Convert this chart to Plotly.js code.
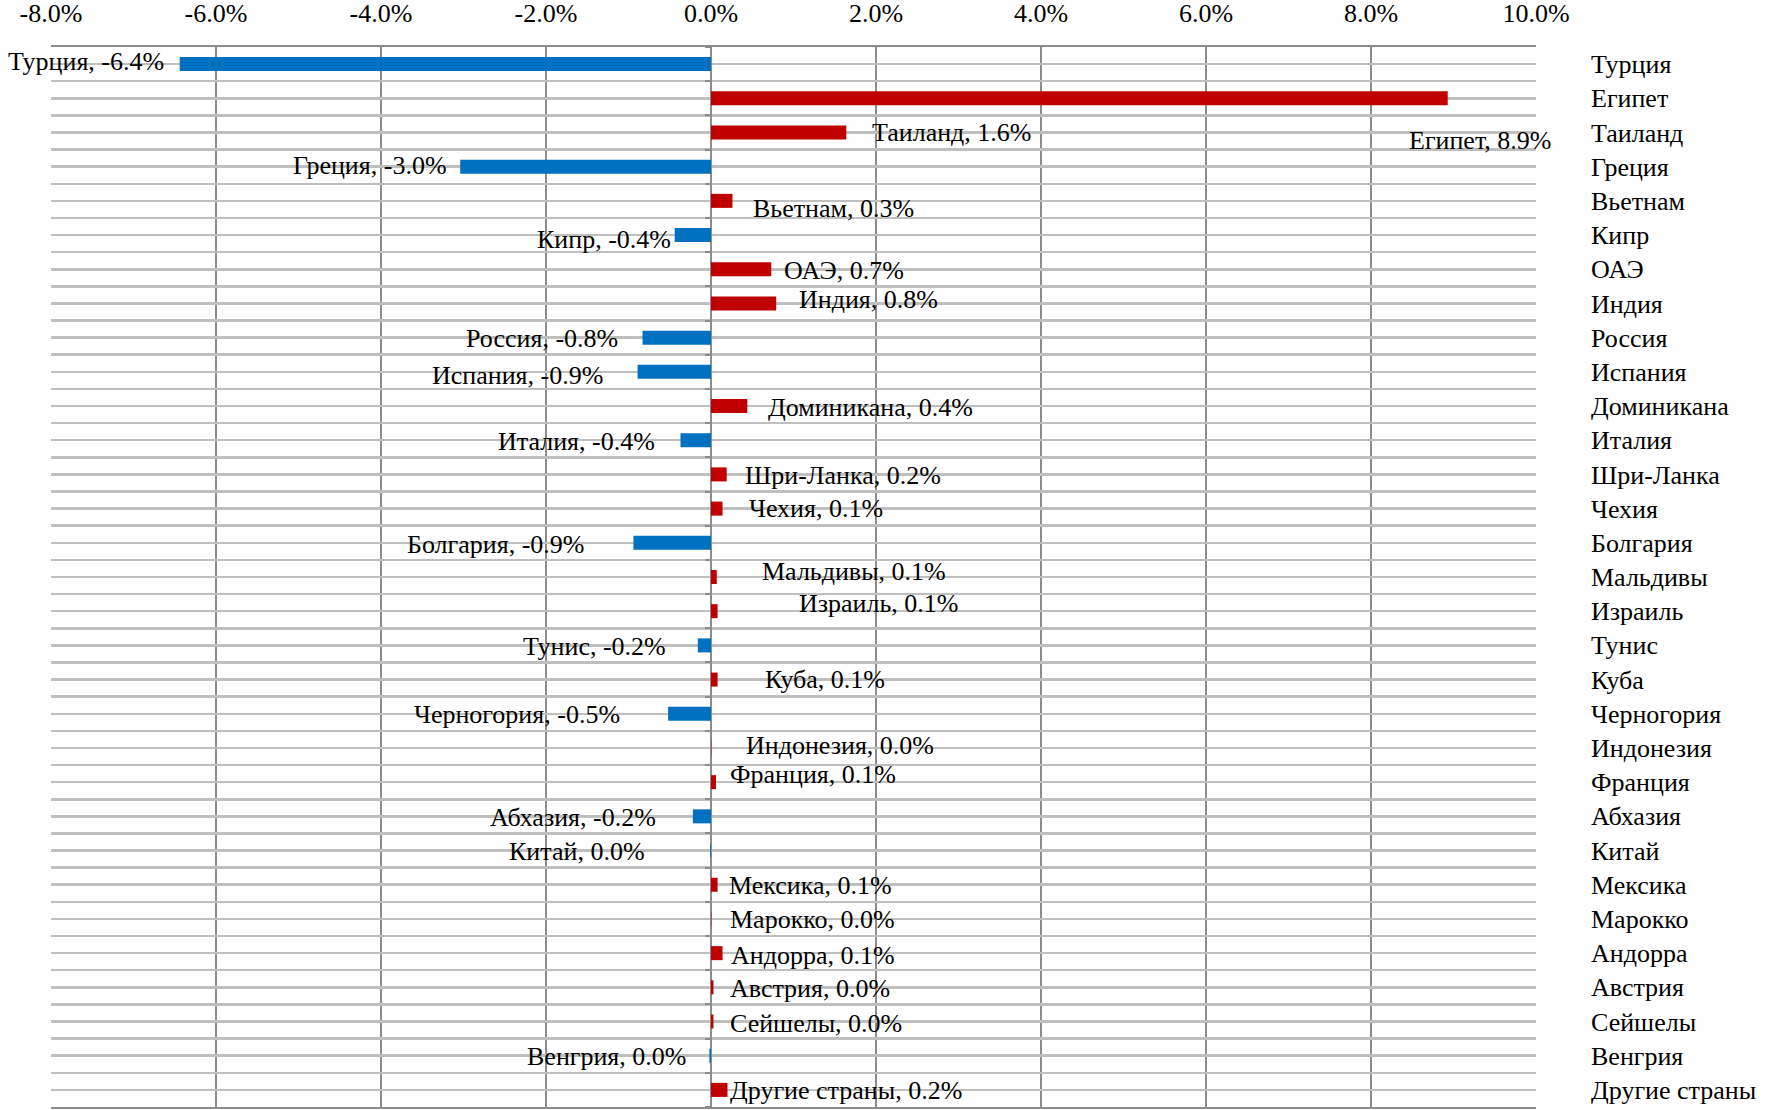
<!DOCTYPE html>
<html>
<head>
<meta charset="utf-8">
<script src="https://cdn.plot.ly/plotly-3.0.1.min.js"></script>
<style>html,body{margin:0;padding:0;background:#fff;}#chart{width:1767px;height:1110px;}</style>
</head>
<body>
<div id="chart"></div>
<script>
const categories = ["Турция","Египет","Таиланд","Греция","Вьетнам","Кипр","ОАЭ","Индия","Россия","Испания","Доминикана","Италия","Шри-Ланка","Чехия","Болгария","Мальдивы","Израиль","Тунис","Куба","Черногория","Индонезия","Франция","Абхазия","Китай","Мексика","Марокко","Андорра","Австрия","Сейшелы","Венгрия","Другие страны"];
const values = [-6.44, 8.93, 1.64, -3.04, 0.26, -0.44, 0.73, 0.79, -0.83, -0.89, 0.44, -0.37, 0.19, 0.14, -0.94, 0.07, 0.08, -0.16, 0.08, -0.52, 0.004, 0.06, -0.22, -0.01, 0.08, 0.004, 0.14, 0.03, 0.03, -0.02, 0.2];
const tickVals = [-8, -6, -4, -2, 0, 2, 4, 6, 8, 10];

// label nudges (px): horizontal gap from bar end, vertical drop
const labelGap = [14, -41, 24, 11, 19, 2, 11, 21, 23, 33, 19, 23, 16, 24, 47, 43, 79, 30, 45, 46, 33, 12, 35, 63, 9, 17, 6, 15, 15, 20, 0];
const labelDrop = [-3, 42, 0, -1, 8, 4, 1, -4, 1, 4, 1, 1, 1, 0, 2, -6, -8, 1, 0, 1, -2, -8, 1, 1, 1, 1, 2, 1, 2, 1, 1];

const BLUE = '#0070c0', RED = '#c00000';
const GRID = '#8c8c8c', HGRID = '#bfbfbf';
const FONT = 'Liberation Serif, Times New Roman, serif';
const FS = 26;

function fmt(v) {
  let s = v.toFixed(1);
  if (parseFloat(s) === 0) s = '0.0';
  return s + '%';
}

const n = categories.length;
const yRange = [n - 0.5, -0.5];

const traces = [
  {
    type: 'bar', orientation: 'h',
    x: values, y: categories,
    width: 0.41,
    marker: {color: values.map(v => v < 0 ? BLUE : RED)},
    hoverinfo: 'x+y'
  },
  {type: 'scatter', x: [], y: [], yaxis: 'y2', showlegend: false, hoverinfo: 'skip'},
  {type: 'scatter', x: [], y: [], yaxis: 'y3', showlegend: false, hoverinfo: 'skip'}
];

const annotations = categories.map((c, i) => {
  const v = values[i];
  const neg = v < 0;
  return {
    x: v, y: c, xref: 'x', yref: 'y',
    text: c + ', ' + fmt(v),
    showarrow: false,
    xanchor: neg ? 'right' : 'left',
    yanchor: 'middle',
    xshift: neg ? -labelGap[i] : labelGap[i],
    yshift: -labelDrop[i],
    font: {family: FONT, size: FS, color: '#000'}
  };
});

const layout = {
  width: 1767, height: 1110,
  margin: {l: 51, r: 231, t: 47, b: 3, pad: 0},
  paper_bgcolor: '#fff', plot_bgcolor: '#fff',
  showlegend: false,
  font: {family: FONT, size: FS, color: '#000'},
  xaxis: {
    side: 'top', range: [-8, 10],
    tickvals: tickVals, ticktext: tickVals.map(v => v.toFixed(1) + '%'),
    ticks: '', ticklabelstandoff: 13,
    showgrid: true, gridcolor: GRID, gridwidth: 2,
    zeroline: true, zerolinecolor: GRID, zerolinewidth: 2,
    showline: true, linecolor: GRID, linewidth: 2, mirror: true,
    tickfont: {family: FONT, size: FS, color: '#000'},
    fixedrange: true
  },
  yaxis: {
    type: 'category', side: 'right', range: yRange,
    categoryorder: 'array', categoryarray: categories,
    showgrid: false, zeroline: false, ticks: '',
    ticklabelstandoff: 54,
    tickfont: {family: FONT, size: FS, color: '#000'},
    fixedrange: true
  },
  yaxis2: {
    overlaying: 'y', anchor: 'x', range: yRange,
    tick0: -0.5, dtick: 0.5,
    showgrid: true, gridcolor: HGRID, gridwidth: 2.5,
    showticklabels: false, ticks: '', zeroline: false, showline: false,
    fixedrange: true
  },
  yaxis3: {
    overlaying: 'y', anchor: 'free', position: 8 / 18, side: 'left',
    range: yRange, tick0: -0.5, dtick: 1,
    showgrid: false, showticklabels: false, zeroline: false, showline: false,
    ticks: 'outside', ticklen: 6, tickwidth: 2, tickcolor: GRID,
    fixedrange: true
  },
  annotations: annotations
};

Plotly.newPlot('chart', traces, layout, {displayModeBar: false, staticPlot: true});
</script>
</body>
</html>
